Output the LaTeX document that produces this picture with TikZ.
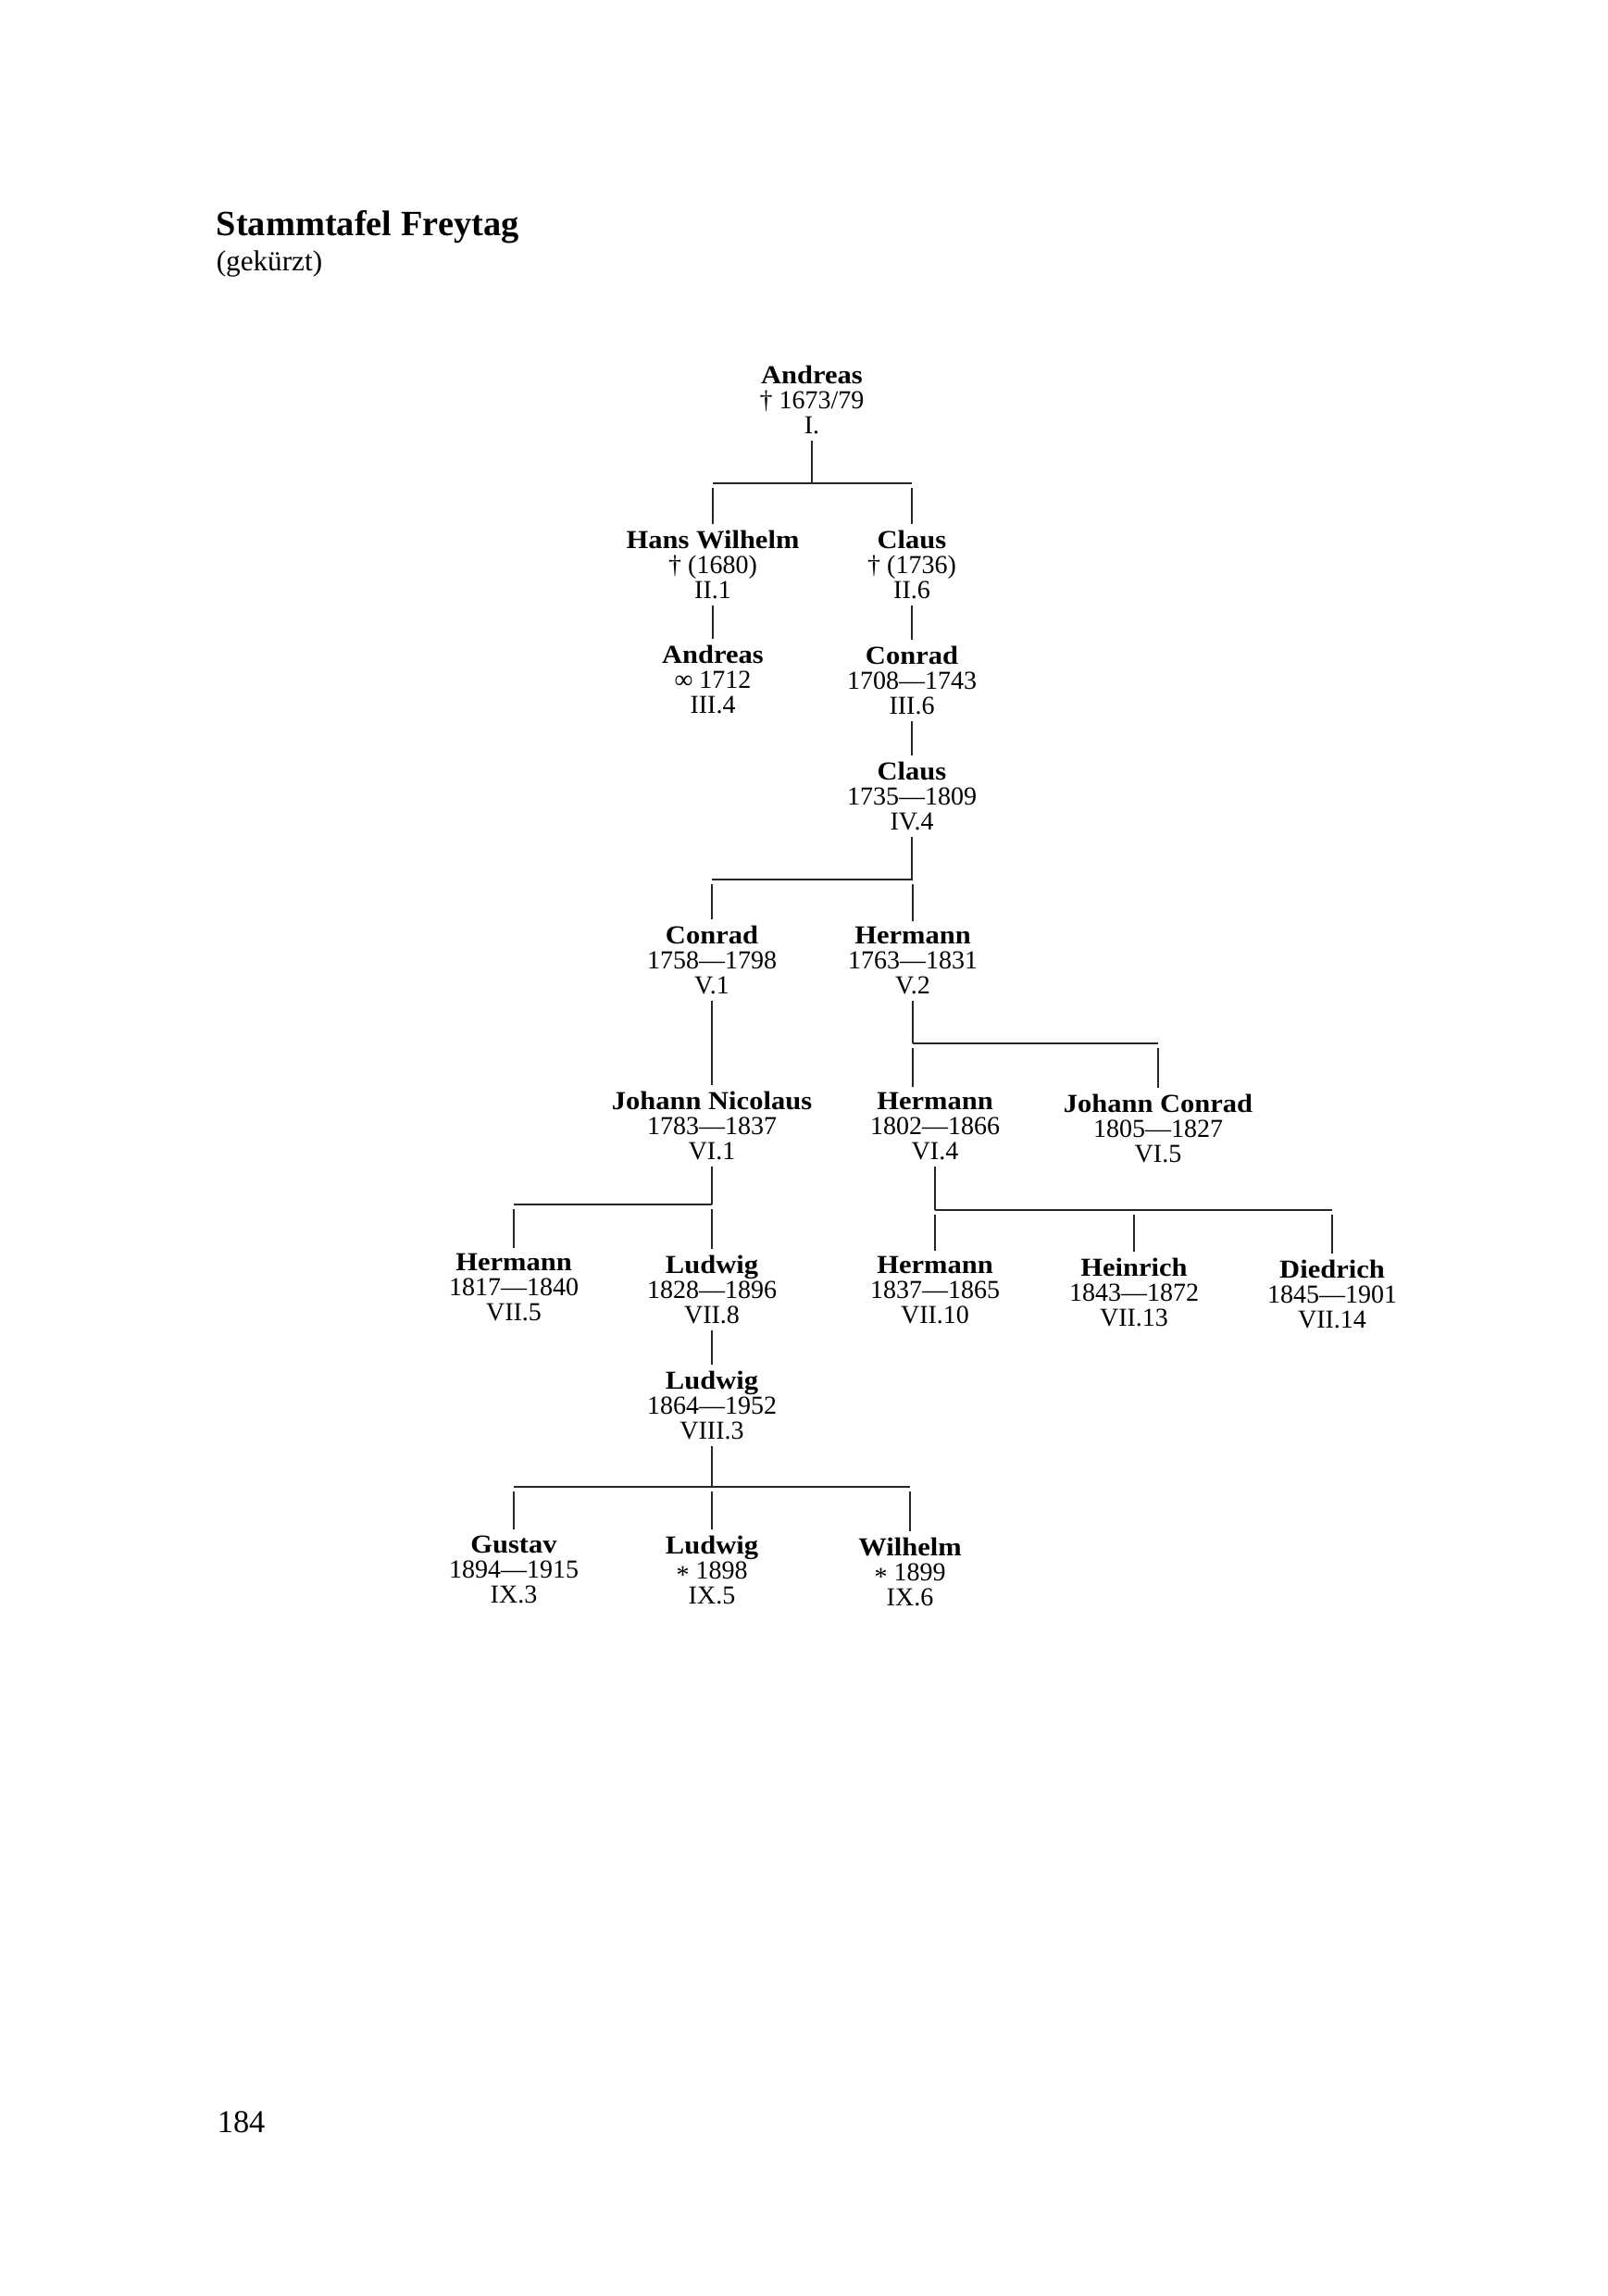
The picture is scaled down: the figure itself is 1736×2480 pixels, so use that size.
\documentclass[tikz,border=0pt]{standalone}
\usepackage{fontspec}
\setmainfont{Liberation Serif}
\newfontfamily\namefont{Liberation Serif}[FakeStretch=1.09]
\usetikzlibrary{positioning}
\tikzset{
  person/.style = {align=center, inner xsep=0pt, inner ysep=1.5pt,
                   font=\fontsize{7}{6.75}\selectfont},
  stem/.style   = {draw=black!85, line width=0.45pt},
  drop/.style   = {stem, shorten <=1.2pt},
  bar/.style    = {draw=black!85, line width=0.6pt},
}
\newcommand{\nm}[1]{{\namefont\bfseries #1}}
\newcommand{\born}{\raisebox{-0.35ex}{*}}

\begin{document}
\begin{tikzpicture}[x=0.25pt, y=-0.25pt]
	\useasboundingbox (0,0) rectangle (1736,2480);
	\node[anchor=base west, inner sep=0pt, font=\fontsize{9.6}{11}\selectfont\bfseries] (title) at (233,255) {Stammtafel Freytag};
	\node[anchor=base west, inner sep=0pt, font=\fontsize{7.8}{9}\selectfont] (sub) at (233,293) {(gekürzt)};
	\node[anchor=base west, inner sep=0pt, font=\fontsize{8.6}{10}\selectfont] (page) at (234,2303) {184};
	% generations I--IV
	\node[person] (a1)  at (877,432)  {\nm{Andreas}\\† 1673/79\\I.};
	\node[person] (hw)  at (770,610)  {\nm{Hans Wilhelm}\\† (1680)\\II.1};
	\node[person] (cl1) at (985,610)  {\nm{Claus}\\† (1736)\\II.6};
	\node[person] (a3)  at (770,734)  {\nm{Andreas}\\∞ 1712\\III.4};
	\node[person] (co3) at (985,735)  {\nm{Conrad}\\1708—1743\\III.6};
	\node[person] (cl4) at (985,860)  {\nm{Claus}\\1735—1809\\IV.4};
	% generations V--VI
	\node[person] (co5) at (769,1037) {\nm{Conrad}\\1758—1798\\V.1};
	\node[person] (he5) at (986,1038) {\nm{Hermann}\\1763—1831\\V.2};
	\node[person] (jn6) at (769,1216) {\nm{Johann Nicolaus}\\1783—1837\\VI.1};
	\node[person] (he6) at (1010,1217) {\nm{Hermann}\\1802—1866\\VI.4};
	\node[person] (jc6) at (1251,1219) {\nm{Johann Conrad}\\1805—1827\\VI.5};
	% generation VII
	\node[person] (he7) at (555,1391)  {\nm{Hermann}\\1817—1840\\VII.5};
	\node[person] (lu7) at (769,1393)  {\nm{Ludwig}\\1828—1896\\VII.8};
	\node[person] (hm7) at (1010,1394) {\nm{Hermann}\\1837—1865\\VII.10};
	\node[person] (hn7) at (1225,1396) {\nm{Heinrich}\\1843—1872\\VII.13};
	\node[person] (di7) at (1439,1398) {\nm{Diedrich}\\1845—1901\\VII.14};
	% generations VIII--IX
	\node[person] (lu8) at (769,1518)  {\nm{Ludwig}\\1864—1952\\VIII.3};
	\node[person] (gu9) at (555,1695)  {\nm{Gustav}\\1894—1915\\IX.3};
	\node[person] (lu9) at (769,1696)  {\nm{Ludwig}\\\born{} 1898\\IX.5};
	\node[person] (wi9) at (983,1698)  {\nm{Wilhelm}\\\born{} 1899\\IX.6};
	% bar heights
	\coordinate (j1) at (877,522);
	\coordinate (j2) at (985,950);
	\coordinate (j3) at (986,1127);
	\coordinate (j4) at (769,1301);
	\coordinate (j5) at (1010,1307);
	\coordinate (j6) at (769,1606);
	% single lines
	\foreach \a/\b in {hw/a3, cl1/co3, co3/cl4, co5/jn6, lu7/lu8}{\draw[stem] (\a) -- (\b);}
	% families
	\draw[stem] (a1) -- (j1);
	\draw[bar] (hw |- j1) -- (cl1 |- j1);
	\foreach \c in {hw, cl1}{\draw[drop] (\c |- j1) -- (\c);}
	\draw[stem] (cl4) -- (j2);
	\draw[bar] (co5 |- j2) -- (he5 |- j2);
	\foreach \c in {co5, he5}{\draw[drop] (\c |- j2) -- (\c);}
	\draw[stem] (he5) -- (j3);
	\draw[bar] (j3) -- (jc6 |- j3);
	\draw[drop] (j3) -- (he5 |- he6.north);
	\draw[drop] (jc6 |- j3) -- (jc6);
	\draw[stem] (jn6) -- (j4);
	\draw[bar] (he7 |- j4) -- (j4);
	\foreach \c in {he7, lu7}{\draw[drop] (\c |- j4) -- (\c);}
	\draw[stem] (he6) -- (j5);
	\draw[bar] (j5) -- (di7 |- j5);
	\foreach \c in {hm7, hn7, di7}{\draw[drop] (\c |- j5) -- (\c);}
	\draw[stem] (lu8) -- (j6);
	\draw[bar] (gu9 |- j6) -- (wi9 |- j6);
	\foreach \c in {gu9, lu9, wi9}{\draw[drop] (\c |- j6) -- (\c);}
\end{tikzpicture}
\end{document}
